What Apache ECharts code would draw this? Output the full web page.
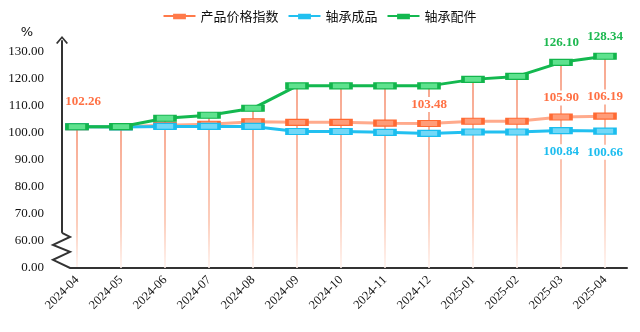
<!DOCTYPE html>
<html><head><meta charset="utf-8">
<script src="https://cdn.jsdelivr.net/npm/echarts@6/dist/echarts.min.js"></script>
<style>html,body{margin:0;padding:0;background:#fff}#c{width:640px;height:332px}</style>
</head><body><div id="c"></div>
<script>
const categories = ['2024-04','2024-05','2024-06','2024-07','2024-08','2024-09','2024-10','2024-11','2024-12','2025-01','2025-02','2025-03','2025-04'];
const priceIndex      = [102.26, 102.3, 102.8, 103.2, 104.1, 103.9, 103.9, 103.6, 103.48, 104.3, 104.3, 105.90, 106.19];
const bearingProducts = [102.26, 102.2, 102.4, 102.4, 102.4, 100.5, 100.5, 100.2, 99.8, 100.3, 100.3, 100.84, 100.66];
const bearingParts    = [102.26, 102.3, 105.4, 106.5, 109.1, 117.4, 117.4, 117.4, 117.4, 119.8, 120.9, 126.10, 128.34];
const seriesNames = ['产品价格指数', '轴承成品', '轴承配件'];
const priceLabelIdx = [0, 8, 11, 12];
const productLabelIdx = [11, 12];
const partsLabelIdx = [11, 12];
const yBreakValue = 50;      // axis position shown as "0.00"
const yBreakLabel = '0.00';

// label nudges (style, kept apart from the data)
const labelNudge = { '0:0': [6, -6] };

function withLabels(values, idxs, sIdx) {
  return values.map((v, i) => {
    if (!idxs.includes(i)) return v;
    const lab = { show: true };
    const n = labelNudge[sIdx + ':' + i];
    if (n) lab.offset = n;
    return { value: v, label: lab };
  });
}

const serif = 'Liberation Serif';
const chart = echarts.init(document.getElementById('c'));
const labelBase = { fontFamily: serif, fontSize: 13, fontWeight: 'bold', backgroundColor: '#fff', padding: [1, 1], formatter: p => p.value.toFixed(2) };
const legendIcon = 'path://M0,3H9V5H0Z M9,2H21V7H9Z M21,3H30V5H21Z';
const chevron = 'path://M6,0 L12,7 L10.6,8 L6,2.6 L1.4,8 L0,7 Z';

chart.setOption({
  animation: false,
  legend: {
    data: [
      { name: seriesNames[0], icon: legendIcon, itemStyle: { color: '#FF7A4A', borderWidth: 0 } },
      { name: seriesNames[1], icon: legendIcon, itemStyle: { color: '#22C0F0', borderWidth: 0 } },
      { name: seriesNames[2], icon: legendIcon, itemStyle: { color: '#13B84F', borderWidth: 0 } }
    ],
    top: 5, left: 'center', itemWidth: 32, itemHeight: 8, itemGap: 10,
    textStyle: { fontFamily: 'Noto Sans CJK SC', fontSize: 13, color: '#111' }
  },
  grid: { left: 55, right: 13, top: 41, bottom: 64 },
  xAxis: {
    type: 'category', data: categories, boundaryGap: true,
    axisLine: { lineStyle: { color: '#333', width: 2 } },
    axisTick: { show: false },
    axisLabel: { rotate: 45, margin: 10, fontFamily: serif, fontSize: 12.5, color: '#111' }
  },
  yAxis: {
    type: 'value', min: yBreakValue, max: 134, interval: 10, offset: -7,
    name: '%', nameLocation: 'end', nameGap: 2,
    nameTextStyle: { fontFamily: 'DejaVu Sans', fontSize: 13, color: '#111', align: 'right', padding: [0, 29, 0, 0] },
    splitLine: { show: false },
    axisTick: { show: false },
    axisLine: { show: true, symbol: ['none', chevron], symbolSize: [12, 8], symbolOffset: [0, 1], lineStyle: { color: '#333', width: 2 } },
    axisLabel: {
      margin: 18, fontFamily: serif, fontSize: 13, color: '#111',
      formatter: v => v === yBreakValue ? yBreakLabel : (v % 10 === 0 ? v.toFixed(2) : '')
    }
  },
  series: [
    {
      name: 'drop', type: 'bar', data: bearingParts, barWidth: 1.5, silent: true, z: 1,
      itemStyle: { color: new echarts.graphic.LinearGradient(0, 0, 0, 1, [{ offset: 0, color: '#F58A6A' }, { offset: 0.7, color: '#FBBFA8' }, { offset: 1, color: '#FFF1EC' }]) }
    },
    {
      name: seriesNames[0], type: 'line', data: withLabels(priceIndex, priceLabelIdx, 0), z: 3,
      symbol: 'rect', symbolSize: [20, 6], showAllSymbol: true,
      lineStyle: { color: '#FFAA8C', width: 3 },
      itemStyle: { color: '#FF9C78', borderColor: '#FF6A33', borderWidth: 2 },
      label: Object.assign({}, labelBase, { show: false, position: 'top', distance: 8, color: '#FF7043' })
    },
    {
      name: seriesNames[1], type: 'line', data: withLabels(bearingProducts, productLabelIdx, 1), z: 4,
      symbol: 'rect', symbolSize: [20, 6], showAllSymbol: true,
      lineStyle: { color: '#22C0F0', width: 3 },
      itemStyle: { color: '#72D8F7', borderColor: '#1ABDEE', borderWidth: 2 },
      label: Object.assign({}, labelBase, { show: false, position: 'bottom', distance: 10, color: '#1DBDEF' })
    },
    {
      name: seriesNames[2], type: 'line', data: withLabels(bearingParts, partsLabelIdx, 2), z: 5,
      symbol: 'rect', symbolSize: [20, 6], showAllSymbol: true,
      lineStyle: { color: '#13B84F', width: 3 },
      itemStyle: { color: '#5FE28E', borderColor: '#12B54C', borderWidth: 2 },
      label: Object.assign({}, labelBase, { show: false, position: 'top', distance: 9, color: '#1DB850' })
    }
  ]
});

// axis break zigzag on the y axis
const yTop = chart.convertToPixel({ yAxisIndex: 0 }, 63);
const yBot = chart.convertToPixel({ yAxisIndex: 0 }, yBreakValue);
const ax = 62;
chart.setOption({
  graphic: [
    { type: 'rect', z: 100, silent: true, shape: { x: ax - 12, y: yTop, width: 20, height: yBot - yTop + 3 }, style: { fill: '#fff' } },
    { type: 'polyline', z: 101, silent: true,
      shape: { points: [[ax, yTop], [ax + 8, yTop + 4], [ax - 9, yTop + 12], [ax + 8, yTop + 19], [ax - 9, yTop + 27], [ax + 8, yBot], [ax + 16, yBot]] },
      style: { stroke: '#333', lineWidth: 2, fill: null } }
  ]
});
</script></body></html>
